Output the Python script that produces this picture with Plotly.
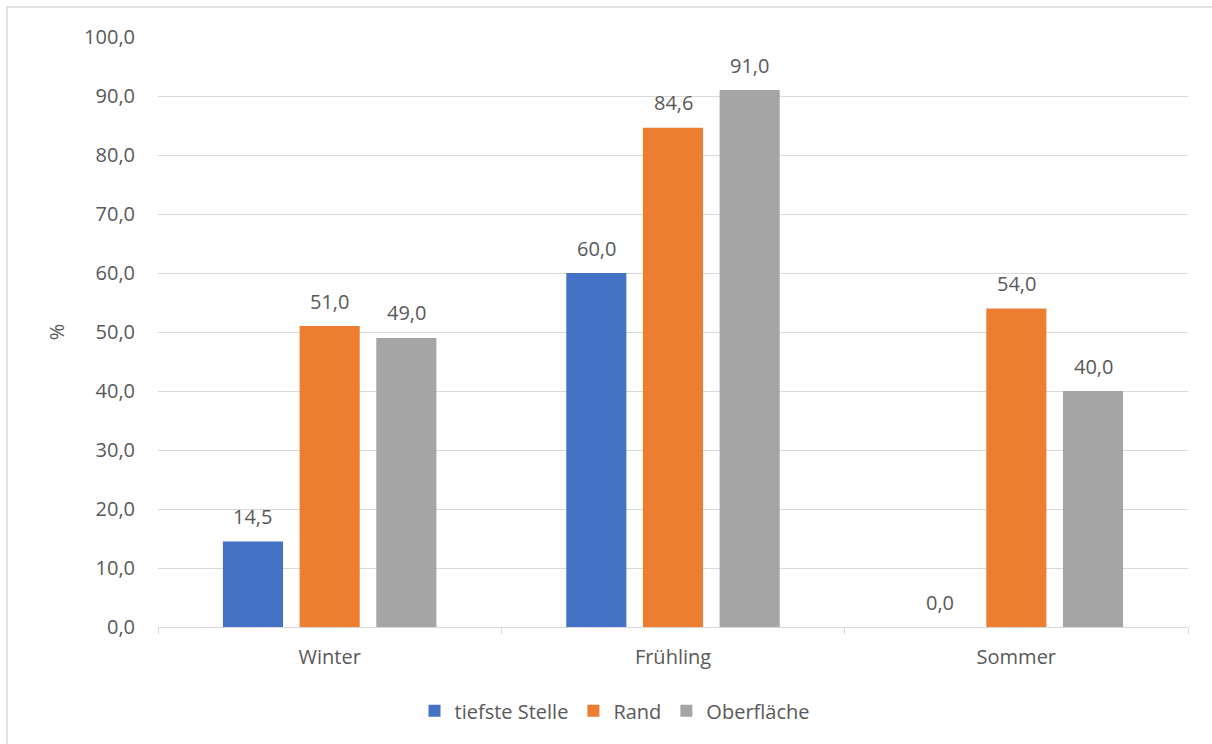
import plotly.graph_objects as go

categories = ["Winter", "Frühling", "Sommer"]
series_names = ["tiefste Stelle", "Rand", "Oberfläche"]
tiefste = [14.5, 60.0, 0.0]
rand = [51.0, 84.6, 54.0]
oberflaeche = [49.0, 91.0, 40.0]
colors = ["#4472C4", "#ED7D31", "#A5A5A5"]

FONT = "'Open Sans', sans-serif"
TXT = "#595959"
FS = 20
BARGAP = 0.33

all_series = [tiefste, rand, oberflaeche]
fig = go.Figure()
for name, vals, col in zip(series_names, all_series, colors):
    fig.add_trace(go.Bar(
        x=categories, y=vals, name=name, marker_color=col,
        marker_line_width=0,
    ))

# data labels positioned via the category axis (group offsets from bargap)
slot = (1 - BARGAP) / len(all_series)
annotations = []
for k, vals in enumerate(all_series):
    for i, v in enumerate(vals):
        annotations.append(dict(
            x=i + (k - 1) * slot, y=v, xref="x", yref="y",
            text=f"{v:.1f}".replace(".", ","), showarrow=False,
            yanchor="middle", yshift=25,
            font=dict(size=FS, color=TXT, family=FONT),
        ))

fig.update_layout(
    width=1212, height=744,
    margin=dict(l=158, r=24, t=37, b=117),
    paper_bgcolor="white", plot_bgcolor="white",
    separators=",.",
    barmode="group", bargap=BARGAP, bargroupgap=0.216,
    font=dict(family=FONT, size=FS, color=TXT),
    showlegend=True,
    legend=dict(orientation="h", x=0.4437, xanchor="center", y=-0.142, yanchor="middle",
                font=dict(size=FS, color=TXT), itemwidth=30, traceorder="normal"),
    xaxis=dict(showline=True, linecolor="#D9D9D9", linewidth=1.3,
               ticks="outside", tickson="boundaries", ticklen=6, tickcolor="#D9D9D9",
               ticklabelstandoff=12,
               tickfont=dict(size=FS, color=TXT)),
    yaxis=dict(range=[0, 100], dtick=10, tickformat=".1f", showgrid=True,
               gridcolor="#D9D9D9", gridwidth=1, zeroline=False,
               ticks="", ticklabelstandoff=22,
               tickfont=dict(size=FS, color=TXT),
               title=dict(text="%", font=dict(size=FS, color=TXT), standoff=14)),
    annotations=annotations,
    shapes=[dict(type="rect", xref="paper", yref="paper",
                 x0=-0.1466, x1=1.2, y0=-0.4, y1=1.0508,
                 line=dict(color="#D9D9D9", width=1.5), fillcolor="rgba(0,0,0,0)", layer="below")],
)

fig.write_html("out.html")
